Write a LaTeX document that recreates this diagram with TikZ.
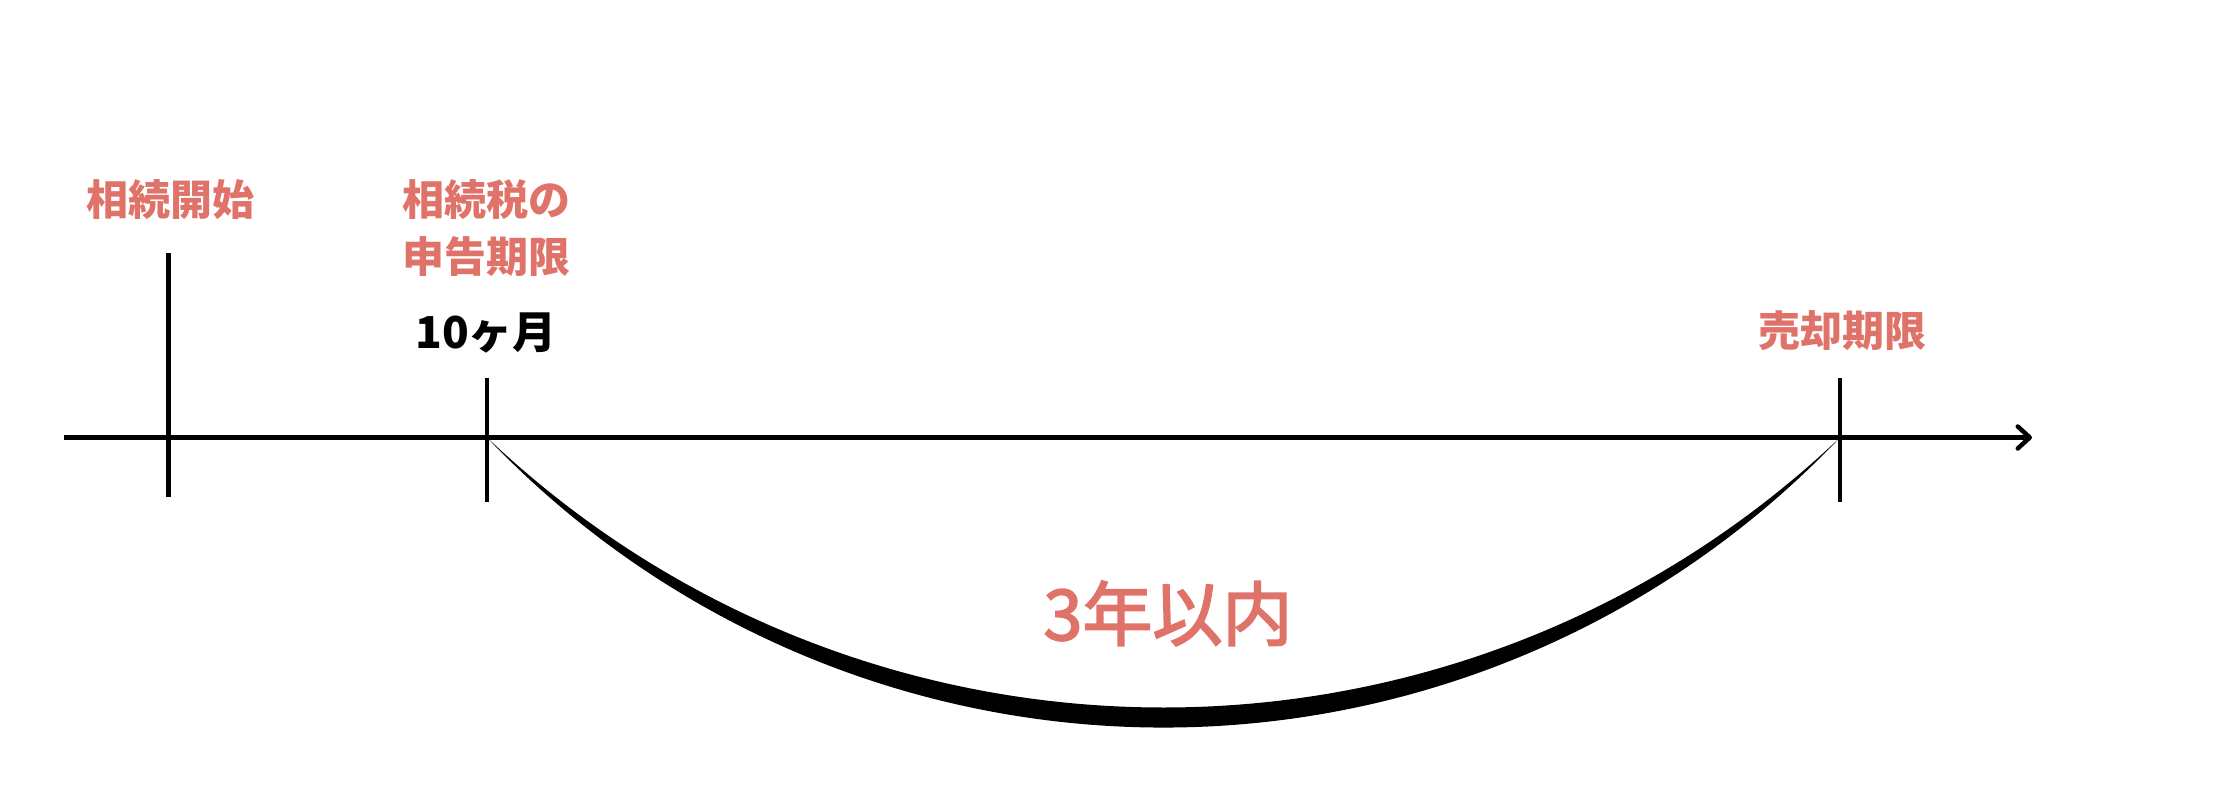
\documentclass[tikz,border=0pt]{standalone}
\usepackage{fontspec}
\newfontfamily\jp{Noto Sans CJK JP}
\newfontfamily\jpm{Noto Sans CJK JP}[FakeBold=2.6]
\usetikzlibrary{arrows.meta}
\definecolor{lab}{HTML}{E07369}
\begin{document}
\begin{tikzpicture}[x=1pt,y=-1pt,
  redlab/.style={text=lab, font=\jp\bfseries\fontsize{42}{57}\selectfont, inner sep=0pt, anchor=base, align=center},
  blacklab/.style={text=black, font=\jp\bfseries\fontsize{44}{50}\selectfont, inner sep=0pt, anchor=base},
  biglab/.style={text=lab, font=\jpm\fontsize{70}{80}\selectfont, inner sep=0pt, anchor=base},
  tickline/.style={line width=4.5pt},
  axisline/.style={line width=4.5pt, -{Straight Barb[length=12pt,width=22pt,line cap=round,line join=round]}}]
\useasboundingbox[fill=white] (0,0) rectangle (2240,800);
% axis
\coordinate (a0) at (64,437.5);
\coordinate (aend) at (2032,437.5);
\draw[axisline] (a0) -- (aend);
% ticks
\coordinate (t1a) at (168.5,253);
\coordinate (t1b) at (168.5,497);
\coordinate (t2a) at (487,378);
\coordinate (t2b) at (487,502);
\coordinate (t3a) at (1840,378);
\coordinate (t3b) at (1840,502);
\draw[tickline] (t1a) -- (t1b);
\draw[tickline] (t2a) -- (t2b);
\draw[tickline] (t3a) -- (t3b);
% crescent arc
\coordinate (p2) at (487,437.5);
\fill (p2) arc[start angle=133.52, end angle=46.48, radius=982.5]
           arc[start angle=43.59, end angle=136.41, radius=934.1] -- cycle;
% labels
\node[redlab] (l1) at (170,215.5) {相続開始};
\node[redlab] (l2) at (486,272.5) {相続税の\\申告期限};
\node[blacklab] (l3) at (486,348) {10ヶ月};
\node[redlab] (l4) at (1842,346.5) {売却期限};
\node[biglab] (l5) at (1168,640) {3年以内};
\end{tikzpicture}
\end{document}
